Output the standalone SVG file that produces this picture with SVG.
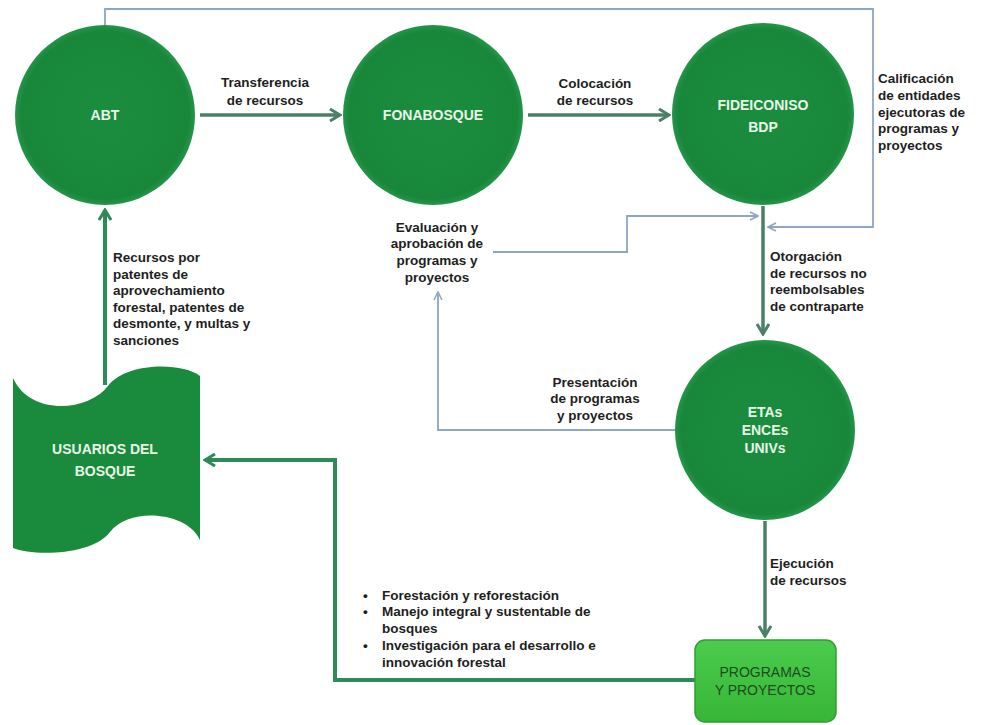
<svg xmlns="http://www.w3.org/2000/svg" width="981" height="725" viewBox="0 0 981 725">
<style>
.node{fill:url(#gc)}
.flat{fill:#1a8a3c}
.nl{font-family:"Liberation Sans",Arial,sans-serif;font-size:14px;font-weight:bold;fill:#e8f6e8;text-anchor:middle}
.lbl{font-family:"Liberation Sans",Arial,sans-serif;font-size:13.5px;font-weight:bold;fill:#1e1e1e}
.mid{text-anchor:middle}
.thick{fill:none;stroke:#4a7f68;stroke-width:3.5}
.green{fill:none;stroke:#2e8a56;stroke-width:4}
.thin{fill:none;stroke:#8ea6c0;stroke-width:1.8}
</style>
<defs>
<radialGradient id="gc" cx="0.5" cy="0.5" r="0.5">
<stop offset="0" stop-color="#1b8d3e"/>
<stop offset="0.93" stop-color="#18873a"/>
<stop offset="1" stop-color="#24954a"/>
</radialGradient>
<linearGradient id="gp" x1="0" y1="0" x2="0" y2="1">
<stop offset="0" stop-color="#4ccc4c"/>
<stop offset="1" stop-color="#36b536"/>
</linearGradient>
<marker id="mt" markerUnits="userSpaceOnUse" viewBox="0 0 14 14" refX="12" refY="7" markerWidth="14" markerHeight="14" orient="auto">
<path d="M2,1 L12,7 L2,13" fill="none" stroke="#4a7f68" stroke-width="3"/>
</marker>
<marker id="mg" markerUnits="userSpaceOnUse" viewBox="0 0 14 14" refX="12" refY="7" markerWidth="14" markerHeight="14" orient="auto">
<path d="M2,1 L12,7 L2,13" fill="none" stroke="#2e8a56" stroke-width="3"/>
</marker>
<marker id="mb" markerUnits="userSpaceOnUse" viewBox="0 0 10 10" refX="9" refY="5" markerWidth="10" markerHeight="10" orient="auto">
<path d="M1,1 L9,5 L1,9" fill="none" stroke="#8ea6c0" stroke-width="1.6"/>
</marker>
</defs>
<rect width="981" height="725" fill="#ffffff"/>
<g id="connectors">
<path class="thin" d="M105,25 V9 H873 V227 H768" marker-end="url(#mb)"/>
<path class="thin" d="M493,252 H627 V216 H758" marker-end="url(#mb)"/>
<path class="thin" d="M675,430 H438 V292" marker-end="url(#mb)"/>
<path class="thick" d="M200,115 H340" marker-end="url(#mt)"/>
<path class="thick" d="M528,115 H669" marker-end="url(#mt)"/>
<path class="thick" d="M763,206 V334" marker-end="url(#mt)"/>
<path class="thick" d="M765,521 V636" marker-end="url(#mt)"/>
<path class="green" d="M105,385 V210" marker-end="url(#mg)"/>
<path class="green" d="M695,680 H335 V460 H205" marker-end="url(#mg)"/>
</g>
<g id="abt">
<circle class="node" cx="105" cy="115" r="90"/>
<text class="nl" x="105" y="120">ABT</text>
</g>
<g id="fonabosque">
<circle class="node" cx="433" cy="115" r="90"/>
<text class="nl" x="433" y="120">FONABOSQUE</text>
</g>
<g id="fideicomiso">
<circle class="node" cx="763" cy="114" r="91"/>
<text class="nl" x="763" y="110">FIDEICONISO</text>
<text class="nl" x="763" y="132">BDP</text>
</g>
<g id="etas">
<circle class="node" cx="765" cy="430" r="90"/>
<text class="nl" x="765" y="417">ETAs</text>
<text class="nl" x="765" y="435">ENCEs</text>
<text class="nl" x="765" y="453">UNIVs</text>
</g>
<g id="usuarios">
<path class="flat" d="M13,378 C30,416 88,412 108,386 C126,362 182,362 200,376 L200,540 C188,512 130,506 110,532 C92,556 32,556 13,548 Z"/>
<text class="nl" x="105" y="454">USUARIOS DEL</text>
<text class="nl" x="105" y="476">BOSQUE</text>
</g>
<g id="programas">
<rect x="695" y="640" width="141" height="82" rx="10" fill="url(#gp)" stroke="#2fa032" stroke-width="1.5"/>
<text class="nl" x="765" y="677" style="fill:#1f4a22;font-weight:normal">PROGRAMAS</text>
<text class="nl" x="765" y="695" style="fill:#1f4a22;font-weight:normal">Y PROYECTOS</text>
</g>
<g id="labels">
<text class="lbl mid" x="265" y="87">Transferencia</text>
<text class="lbl mid" x="265" y="105">de recursos</text>
<text class="lbl mid" x="595" y="88">Colocación</text>
<text class="lbl mid" x="595" y="105">de recursos</text>
<text class="lbl" x="878" y="83">Calificación</text>
<text class="lbl" x="878" y="100">de entidades</text>
<text class="lbl" x="878" y="117">ejecutoras de</text>
<text class="lbl" x="878" y="133">programas y</text>
<text class="lbl" x="878" y="150">proyectos</text>
<text class="lbl mid" x="437" y="232">Evaluación y</text>
<text class="lbl mid" x="437" y="248">aprobación de</text>
<text class="lbl mid" x="437" y="265">programas y</text>
<text class="lbl mid" x="437" y="282">proyectos</text>
<text class="lbl" x="770" y="261">Otorgación</text>
<text class="lbl" x="770" y="278">de recursos no</text>
<text class="lbl" x="770" y="294">reembolsables</text>
<text class="lbl" x="770" y="311">de contraparte</text>
<text class="lbl" x="113" y="262">Recursos por</text>
<text class="lbl" x="113" y="279">patentes de</text>
<text class="lbl" x="113" y="295">aprovechamiento</text>
<text class="lbl" x="113" y="312">forestal, patentes de</text>
<text class="lbl" x="113" y="328">desmonte, y multas y</text>
<text class="lbl" x="113" y="345">sanciones</text>
<text class="lbl mid" x="595" y="387">Presentación</text>
<text class="lbl mid" x="595" y="403">de programas</text>
<text class="lbl mid" x="595" y="420">y proyectos</text>
<text class="lbl" x="770" y="568">Ejecución</text>
<text class="lbl" x="770" y="585">de recursos</text>
<text class="lbl" x="363" y="600">•</text>
<text class="lbl" x="382" y="600">Forestación y reforestación</text>
<text class="lbl" x="363" y="616">•</text>
<text class="lbl" x="382" y="616">Manejo integral y sustentable de</text>
<text class="lbl" x="382" y="633">bosques</text>
<text class="lbl" x="363" y="650">•</text>
<text class="lbl" x="382" y="650">Investigación para el desarrollo e</text>
<text class="lbl" x="382" y="667">innovación forestal</text>
</g>
</svg>
